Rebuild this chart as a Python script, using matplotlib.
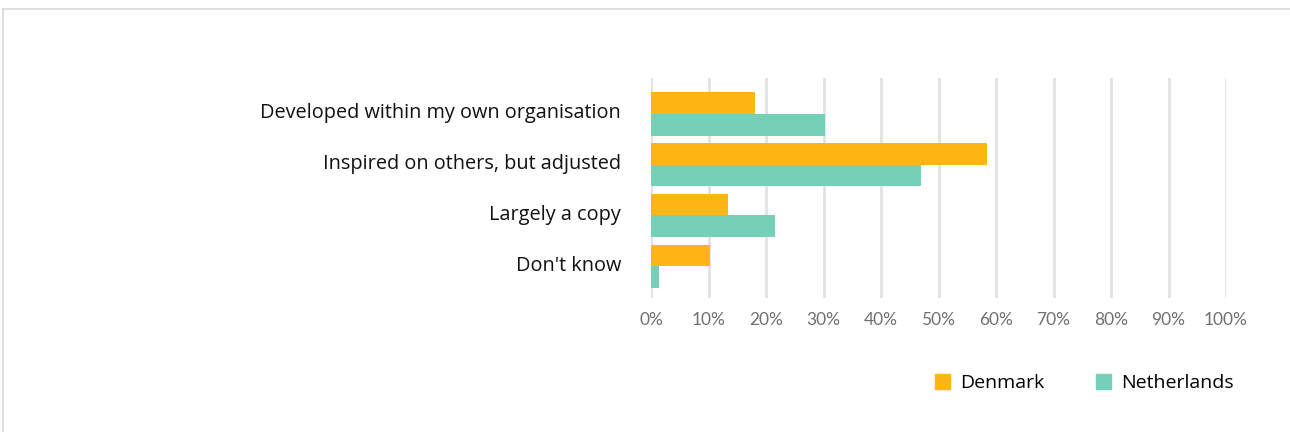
import matplotlib.pyplot as plt
import matplotlib.transforms as mtransforms
from matplotlib.patches import Patch
from matplotlib.lines import Line2D
import numpy as np

categories = ["Developed within my own organisation",
              "Inspired on others, but adjusted",
              "Largely a copy",
              "Don't know"]
denmark = [18.1, 58.4, 13.4, 10.3]
netherlands = [30.3, 46.9, 21.6, 1.4]
ticks = list(range(0, 101, 10))
tick_labels = [f"{t}%" for t in ticks]

orange = "#FFB514"
teal = "#74D1B7"

fig = plt.figure(figsize=(12.9, 4.32), dpi=100)
# axes area in pixels: x 651..1226, y 78..298 (from top)
W, H = 1290, 432
ax = fig.add_axes([651 / W, 1 - 298 / H, (1226 - 651) / W, (298 - 78) / H])

y = np.arange(len(categories))
h = 0.43
ax.barh(y - h / 2, denmark, height=h, color=orange, label="Denmark", zorder=3)
ax.barh(y + h / 2, netherlands, height=h, color=teal, label="Netherlands", zorder=3)

ax.set_xlim(0, 100)
ax.set_ylim(len(categories) - 1 + 0.62, -0.7)
ax.set_xticks(ticks)
ax.set_xticklabels(tick_labels, family="Lato", fontsize=12.5, color="#707070")
ax.set_yticks(y)
ax.set_yticklabels(categories, family="Open Sans", fontsize=14.3, color="#111111")
ax.tick_params(axis="x", length=0, pad=10)
ax.tick_params(axis="y", length=0, pad=21.5)
# nudge category labels up a little
shift = mtransforms.ScaledTranslation(0, 3 / 100, fig.dpi_scale_trans)
for lbl in ax.get_yticklabels():
    lbl.set_transform(lbl.get_transform() + shift)
ax.grid(axis="x", color="#e2e2e2", linewidth=2, zorder=0)
for s in ax.spines.values():
    s.set_visible(False)

handles = [Patch(color=orange, label="Denmark"), Patch(color=teal, label="Netherlands")]
fig.legend(handles=handles, loc="center", bbox_to_anchor=(1084 / W, 1 - 383 / H),
           ncol=2, frameon=False, handlelength=0.8, handleheight=0.8,
           handletextpad=0.5, columnspacing=2.65,
           prop={"family": "Open Sans", "size": 14})

# light frame around the chart area
fig.add_artist(Line2D([3 / W, 1], [1 - 8.5 / H] * 2, color="#d9d9d9", lw=1.2,
                      transform=fig.transFigure))
fig.add_artist(Line2D([3 / W] * 2, [0, 1 - 8.5 / H], color="#d9d9d9", lw=1.2,
                      transform=fig.transFigure))

fig.savefig("out.png", dpi=100)
